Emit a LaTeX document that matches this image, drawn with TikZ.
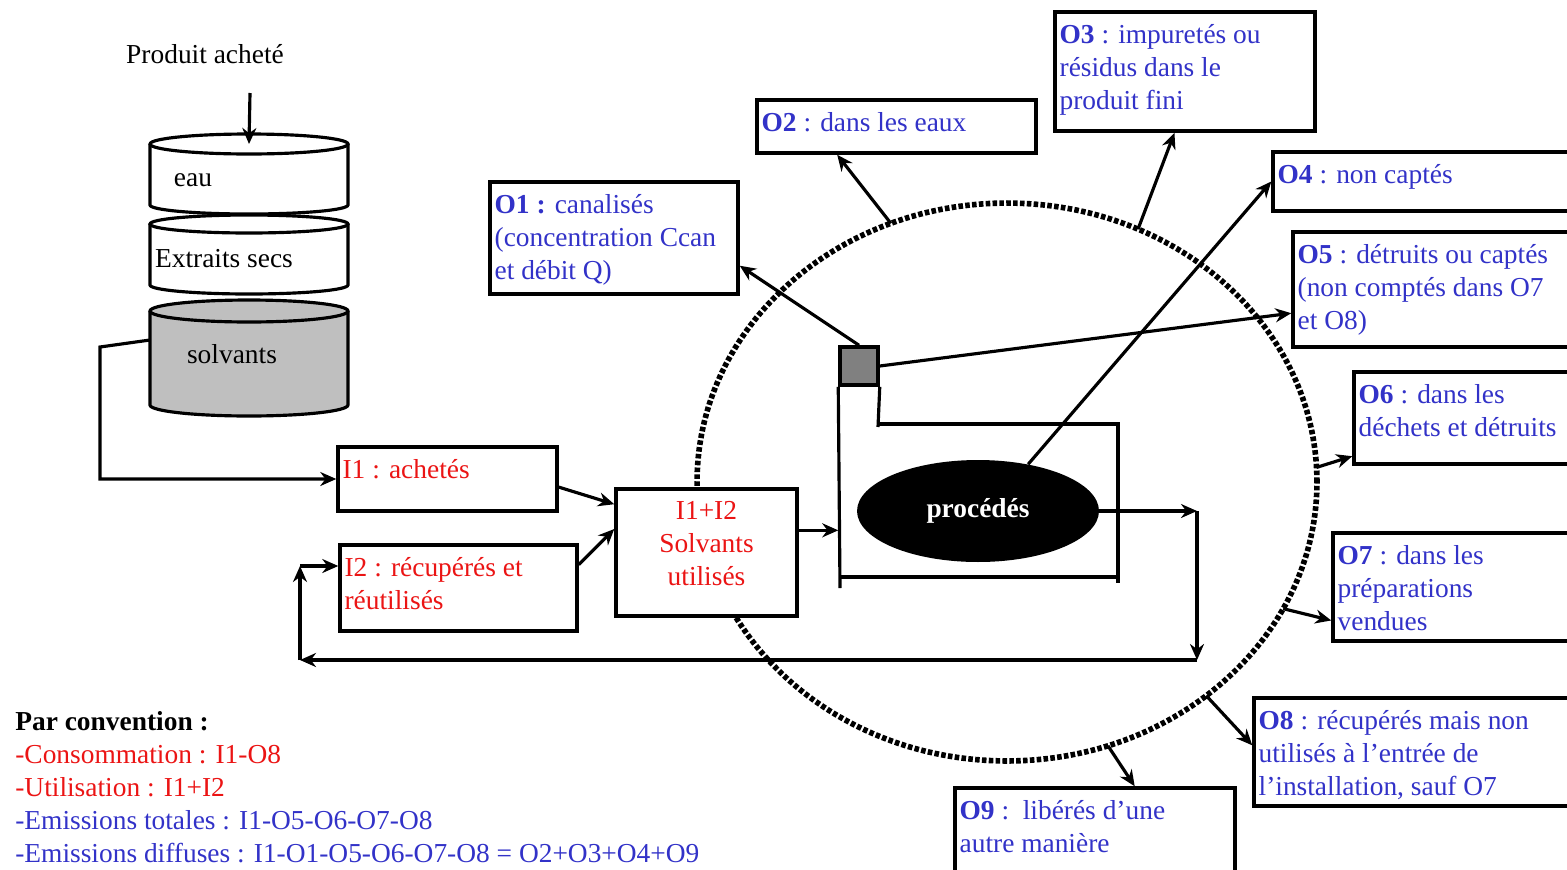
\documentclass[tikz,border=0pt]{standalone}
\usepackage{fontspec}
\setmainfont{Liberation Serif}
\usepackage{tikz}
\usetikzlibrary{arrows.meta,positioning,calc,shapes.geometric}
\definecolor{oblue}{RGB}{50,50,200}
\definecolor{ired}{RGB}{235,20,20}
\newcommand{\txtsize}{\fontsize{15.6}{18.8}\selectfont}
\tikzset{
  bx/.style={rectangle,draw,line width=2pt,fill=white,inner sep=0pt},
  otxt/.style={anchor=north west,align=left,text=oblue,inner xsep=1.2mm,inner ysep=2.7mm,font=\txtsize},
  itxt/.style={otxt,text=ired},
  fl/.style={-{Stealth[length=3.2mm,width=2.8mm]},line width=1.8pt},
  ln/.style={line width=1.8pt},
  ring/.style={line width=3.2pt,dash pattern=on 2.6pt off 1.3pt},
  lbl/.style={font=\txtsize,inner sep=0pt}
}

\begin{document}
\begin{tikzpicture}[x=0.02cm,y=-0.02cm]
\useasboundingbox (0,0) rectangle (1567,869);
% stockage
\node[lbl] (prod) at (205,54) {Produit acheté};
\coordinate (entree) at (250,93);
\draw[ln,fill=lightgray] (150,311) -- (150,405) arc[start angle=180,end angle=360,x radius=1.98cm,y radius=0.22cm] -- (348,311);
\draw[ln,fill=lightgray] (249,311) ellipse[x radius=1.98cm,y radius=0.22cm];
\draw[ln,fill=white] (150,224) -- (150,285) arc[start angle=180,end angle=360,x radius=1.98cm,y radius=0.18cm] -- (348,224);
\draw[ln,fill=white] (249,224) ellipse[x radius=1.98cm,y radius=0.18cm];
\draw[ln,fill=white] (150,144) -- (150,205) arc[start angle=180,end angle=360,x radius=1.98cm,y radius=0.18cm] -- (348,144);
\draw[ln,fill=white] (249,144) ellipse[x radius=1.98cm,y radius=0.2cm];
\coordinate (eautop) at (249,144);
\draw[fl] (entree) -- (eautop);
\node[lbl] (eau) at (193,180) {eau};
\node[lbl] (es) at (224,259) {Extraits secs};
\node[lbl] (sv) at (232,354) {solvants};

% bilan
\coordinate (c) at (1007,482);
\draw[ring] (c) ellipse[x radius=6.2cm,y radius=5.58cm];

% entrees
\node[bx,minimum width=4.38cm,minimum height=1.28cm,label={[itxt]north west:{I1 : achetés}}] (i1) at (447.5,479) {};
\node[bx,minimum width=4.74cm,minimum height=1.72cm,label={[itxt]north west:{I2 : récupérés et\\réutilisés}}] (i2) at (458.5,588) {};
\node[bx,minimum width=3.62cm,minimum height=2.54cm,label={[itxt,anchor=north,align=center]north:{I1+I2\\Solvants\\utilisés}}] (sol) at (706.5,552.5) {};
\coordinate (sortie) at (150,340);
\coordinate (coude) at (100,347);
\draw[fl] (sortie) -- (coude) |- (i1.west);
\draw[fl] ($(i1.north east)!0.62!(i1.south east)$) -- ($(sol.north west)!0.13!(sol.south west)$);
\draw[fl] ($(i2.north east)!0.24!(i2.south east)$) -- ($(sol.north west)!0.32!(sol.south west)$);

% installation
\node[rectangle,draw,line width=2pt,fill=gray,minimum size=0.76cm] (chim) at (859,366) {};
\draw[ln] (chim.south west) -- (840,588);
\draw[ln] (chim.south east) -- (878,427);
\draw[ln] (878,424) -- (1118,424) -- (1118,583);
\draw[ln] (840,577) -- (1118,577);
\node[ellipse,fill=black,minimum width=4.84cm,minimum height=2.04cm,text=white,font=\txtsize\bfseries] (proc) at (978,511) {procédés};
\coordinate (s1) at ($(sol.north east)!0.33!(sol.south east)$);
\draw[fl] (s1) -- (s1 -| chim.west);

% recyclage
\coordinate (rt) at (1197,511);
\coordinate (rb) at (1197,660);
\coordinate (lb) at (300,660);
\coordinate (lt) at (300,566);
\draw[fl] (proc.east) -- (rt);
\draw[fl] (rt) -- (rb);
\draw[fl] (rb) -- (lb);
\draw[fl] (lb) -- (lt);
\draw[fl] (lt) -- (lt -| i2.west);

% sorties
\node[bx,minimum width=4.96cm,minimum height=2.24cm,label={[otxt]north west:{\textbf{O1 :} canalisés\\(concentration Ccan\\et débit Q)}}] (o1) at (614,238) {};
\node[bx,minimum width=5.58cm,minimum height=1.06cm,label={[otxt]north west:{\textbf{O2} : dans les eaux}}] (o2) at (896.5,126.5) {};
\node[bx,minimum width=5.2cm,minimum height=2.38cm,label={[otxt]north west:{\textbf{O3} : impuretés ou\\résidus dans le\\produit fini}}] (o3) at (1185,71.5) {};
\node[bx,minimum width=6.14cm,minimum height=1.18cm,label={[otxt]north west:{\textbf{O4} : non captés}}] (o4) at (1426.5,181.5) {};
\node[bx,minimum width=5.74cm,minimum height=2.3cm,label={[otxt]north west:{\textbf{O5} : détruits ou captés\\(non comptés dans O7\\et O8)}}] (o5) at (1436.5,289.5) {};
\node[bx,minimum width=4.52cm,minimum height=1.84cm,label={[otxt]north west:{\textbf{O6} : dans les\\déchets et détruits}}] (o6) at (1467,418) {};
\node[bx,minimum width=4.94cm,minimum height=2.16cm,label={[otxt]north west:{\textbf{O7} : dans les\\préparations\\vendues}}] (o7) at (1456.5,587) {};
\node[bx,minimum width=6.52cm,minimum height=2.16cm,label={[otxt]north west:{\textbf{O8} : récupérés mais non\\utilisés à l’entrée de\\l’installation, sauf O7}}] (o8) at (1417,752) {};
\node[bx,minimum width=5.6cm,minimum height=1.84cm,label={[otxt]north west:{\textbf{O9} :\ \ libérés d’une\\autre manière}}] (o9) at (1095,834) {};

\draw[fl] (chim.north) -- ($(o1.north east)!0.74!(o1.south east)$);
\draw[fl] ($(c)+(112:6.2cm and 5.58cm)$) -- ($(o2.south west)!0.29!(o2.south east)$);
\draw[fl] ($(c)+(65:6.2cm and 5.58cm)$) -- ($(o3.south west)!0.46!(o3.south east)$);
\draw[fl] (proc.43) -- (o4.west);
\draw[fl] (chim.east) -- ($(o5.north west)!0.7!(o5.south west)$);
\draw[fl] ($(c)+(3:6.2cm and 5.58cm)$) -- ($(o6.north west)!0.9!(o6.south west)$);
\draw[fl] ($(c)+(-27:6.2cm and 5.58cm)$) -- ($(o7.north west)!0.8!(o7.south west)$);
\draw[fl] ($(c)+(-50:6.2cm and 5.58cm)$) -- ($(o8.north west)!0.44!(o8.south west)$);
\draw[fl] ($(c)+(-71:6.2cm and 5.58cm)$) -- ($(o9.north west)!0.64!(o9.north east)$);

% convention
\node[lbl,anchor=north west,align=left] (conv) at (15,711) {\textbf{Par convention :}\\\textcolor{ired}{-Consommation : I1-O8}\\\textcolor{ired}{-Utilisation : I1+I2}\\\textcolor{oblue}{-Emissions totales : I1-O5-O6-O7-O8}\\\textcolor{oblue}{-Emissions diffuses : I1-O1-O5-O6-O7-O8 = O2+O3+O4+O9}};
\end{tikzpicture}
\end{document}
